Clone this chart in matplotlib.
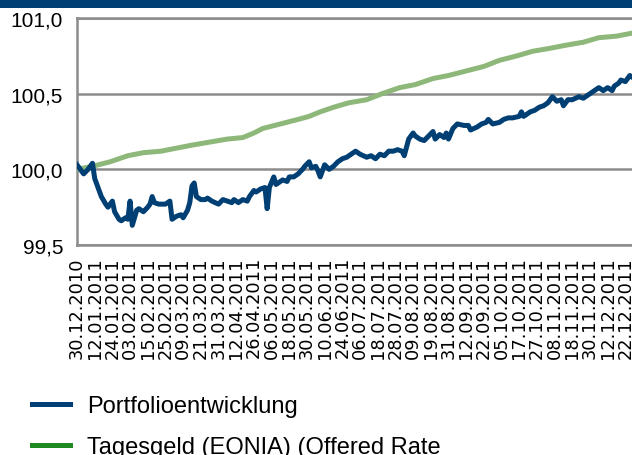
import numpy as np
import matplotlib
matplotlib.use("Agg")
import matplotlib.pyplot as plt
from matplotlib.lines import Line2D
from matplotlib.patches import Rectangle
from matplotlib.transforms import Bbox

# --- data (trading-day index) ---
portfolio_day = [0, 3, 5, 7, 8, 10, 11, 13, 14, 16, 17, 19, 20, 22, 23, 24, 25, 27, 28, 30,
                 32, 33, 34, 35, 37, 38, 40, 41, 42, 43, 45, 47, 48, 50, 51, 52, 53, 54, 56, 58,
                 59, 61, 64, 66, 68, 70, 71, 73, 75, 77, 78, 80, 81, 83, 85, 86, 87, 89, 90, 92,
                 93, 95, 96, 98, 100, 102, 103, 105, 106, 108, 109, 110, 112, 114, 116, 118, 120, 122, 124, 126,
                 128, 131, 133, 135, 137, 139, 141, 143, 145, 147, 148, 150, 152, 153, 155, 157, 159, 161, 162, 164,
                 166, 167, 168, 170, 172, 175, 177, 178, 181, 183, 185, 186, 188, 191, 193, 195, 197, 200, 201, 202,
                 205, 207, 209, 211, 213, 215, 217, 219, 220, 222, 224, 227, 229, 231, 233, 236, 238, 240, 242, 243,
                 245, 246, 248, 250, 251]
portfolio_value = [100.03, 99.97, 100.00, 100.04, 99.94, 99.86, 99.82, 99.77, 99.75, 99.79, 99.72, 99.67, 99.66, 99.68, 99.67, 99.79, 99.63, 99.73, 99.74, 99.72,
                   99.75, 99.77, 99.82, 99.78, 99.77, 99.77, 99.77, 99.78, 99.79, 99.67, 99.69, 99.70, 99.68, 99.73, 99.78, 99.89, 99.91, 99.82, 99.80, 99.80,
                   99.81, 99.79, 99.77, 99.80, 99.79, 99.78, 99.80, 99.78, 99.80, 99.79, 99.82, 99.86, 99.85, 99.87, 99.88, 99.74, 99.88, 99.95, 99.90, 99.92,
                   99.93, 99.92, 99.95, 99.95, 99.97, 100.00, 100.02, 100.05, 100.01, 100.02, 99.99, 99.95, 100.03, 100.00, 100.02, 100.05, 100.07, 100.08, 100.10, 100.12,
                   100.10, 100.08, 100.09, 100.07, 100.10, 100.09, 100.12, 100.12, 100.13, 100.12, 100.09, 100.20, 100.24, 100.22, 100.20, 100.19, 100.22, 100.25, 100.20, 100.23,
                   100.21, 100.24, 100.20, 100.27, 100.30, 100.29, 100.29, 100.26, 100.28, 100.30, 100.31, 100.33, 100.30, 100.31, 100.33, 100.34, 100.34, 100.35, 100.38, 100.35,
                   100.38, 100.39, 100.41, 100.42, 100.44, 100.48, 100.45, 100.46, 100.42, 100.46, 100.46, 100.48, 100.47, 100.49, 100.51, 100.54, 100.52, 100.54, 100.52, 100.55,
                   100.57, 100.59, 100.58, 100.62, 100.61]

eonia_day = [0, 7, 15, 23, 30, 38, 45, 52, 60, 68, 75, 80, 84, 92, 100, 105, 110, 116, 123, 131,
             138, 146, 153, 161, 168, 176, 184, 191, 199, 206, 214, 221, 229, 236, 244, 251]
eonia_value = [100.00, 100.02, 100.05, 100.09, 100.11, 100.12, 100.14, 100.16, 100.18, 100.20,
               100.21, 100.24, 100.27, 100.30, 100.33, 100.35, 100.38, 100.41, 100.44, 100.46,
               100.50, 100.54, 100.56, 100.60, 100.62, 100.65, 100.68, 100.72, 100.75, 100.78,
               100.80, 100.82, 100.84, 100.87, 100.88, 100.90]

date_labels = ["30.12.2010", "12.01.2011", "24.01.2011", "03.02.2011", "15.02.2011", "25.02.2011",
               "09.03.2011", "21.03.2011", "31.03.2011", "12.04.2011", "26.04.2011", "06.05.2011",
               "18.05.2011", "30.05.2011", "10.06.2011", "24.06.2011", "06.07.2011", "18.07.2011",
               "28.07.2011", "09.08.2011", "19.08.2011", "31.08.2011", "12.09.2011", "22.09.2011",
               "05.10.2011", "17.10.2011", "27.10.2011", "08.11.2011", "18.11.2011", "30.11.2011",
               "12.12.2011", "22.12.2011"]
label_step = 8  # one label every 8 trading days

y_ticks = [99.5, 100.0, 100.5, 101.0]
y_tick_labels = ["99,5", "100,0", "100,5", "101,0"]

series_names = ["Portfolioentwicklung", "Tagesgeld (EONIA) (Offered Rate"]

NAVY = "#003f74"
LIGHT_GREEN = "#8db87a"
LEGEND_GREEN = "#1f8a1f"
GRID = "#8c8c8c"

W, H = 632, 456
fig = plt.figure(figsize=(W / 100, H / 100), dpi=100)

# dark band on top
fig.add_artist(Rectangle((0, 1 - 9 / H), 1, 9 / H, transform=fig.transFigure,
                         facecolor=NAVY, edgecolor="none"))

ax = fig.add_axes([77 / W, 1 - 246 / H, 1 - 77 / W, (246 - 19) / H])

ax.plot(eonia_day, eonia_value, color=LIGHT_GREEN, lw=3.6, solid_joinstyle="round", zorder=3)
ax.plot(portfolio_day, portfolio_value, color=NAVY, lw=3.6, solid_joinstyle="round", zorder=4)

ax.set_xlim(0, 251)
ax.set_ylim(99.5, 101.0)

ax.set_yticks(y_ticks)
ax.set_yticklabels(y_tick_labels, fontsize=15, family="Liberation Sans")
ax.set_xticks(np.arange(len(date_labels)) * label_step)
ax.set_xticklabels(date_labels, rotation=90, fontsize=12.8, family="DejaVu Sans", va="top", ha="center")
ax.tick_params(axis="both", length=0)
ax.tick_params(axis="y", pad=10)
ax.tick_params(axis="x", pad=8)

ax.grid(axis="y", color=GRID, lw=1.8)
ax.set_axisbelow(True)
for side in ["left", "bottom", "top"]:
    ax.spines[side].set_color(GRID)
    ax.spines[side].set_linewidth(1.8)
ax.spines["right"].set_visible(False)

handles = [Line2D([], [], color=NAVY, lw=3.6), Line2D([], [], color=LEGEND_GREEN, lw=3.6)]
leg = fig.legend(handles, series_names, loc="upper left", bbox_to_anchor=(32 / W, 1 - 396 / H),
                 frameon=False, prop={"family": "Liberation Sans", "size": 17},
                 handlelength=1.6, handletextpad=0.72, labelspacing=0.8,
                 borderpad=0, borderaxespad=0)

# the second legend label is cut off in the source
clip = Bbox.from_extents(0, 0, 441, H)
for t in leg.get_texts():
    t.set_clip_box(clip)
    t.set_clip_on(True)

fig.savefig("out.png", dpi=100)
